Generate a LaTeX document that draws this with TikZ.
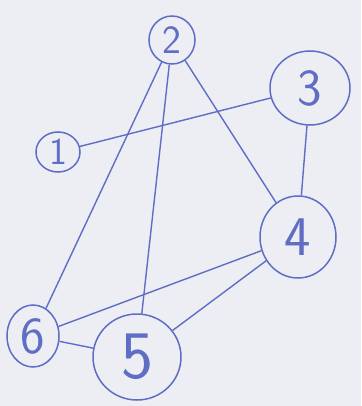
\documentclass[tikz,border=0pt]{standalone}
\usetikzlibrary{shapes.geometric}
\definecolor{pen}{HTML}{5F6DC4}
\definecolor{sheet}{HTML}{ECEEF4}

\begin{document}
\begin{tikzpicture}[x=1pt, y=-1pt,
          v/.style={draw=pen, ellipse, line width=1.5pt, inner sep=0pt, text=pen},
          d/.style={font=\sffamily\fontsize{#1}{#1}\selectfont},
          e/.style={pen, line width=1.4pt}]
        \fill[sheet] (0,0) rectangle (361,406);
        \useasboundingbox (0,0) rectangle (361,406);
        \node[v, d=38, minimum width=44pt, minimum height=40pt] (n1) at (58,152) {1};
        \node[v, d=40, minimum width=46pt, minimum height=48pt] (n2) at (172,40) {2};
        \node[v, d=52, minimum width=80pt, minimum height=74pt] (n3) at (310,88) {3};
        \node[v, d=56, minimum width=76pt, minimum height=82pt] (n4) at (298,237) {4};
        \node[v, d=68, minimum width=88pt, minimum height=86pt] (n5) at (137,357) {5};
        \node[v, d=52, minimum width=52pt, minimum height=62pt] (n6) at (33,336) {6};
        \draw[e] (n1) -- (n3);
        \draw[e] (n2) -- (n6);
        \draw[e] (n2) -- (n5);
        \draw[e] (n2) -- (n4);
        \draw[e] (n3) -- (n4);
        \draw[e] (n4) -- (n6);
        \draw[e] (n4) -- (n5);
        \draw[e] (n6) -- (n5);
      \end{tikzpicture}
\end{document}
